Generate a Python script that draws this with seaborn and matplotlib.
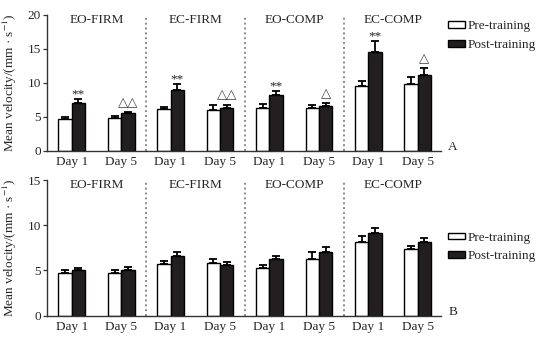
import matplotlib
matplotlib.use("Agg")
import matplotlib.pyplot as plt
from matplotlib.container import BarContainer
import seaborn as sns
import numpy as np
import pandas as pd

# ---------------- data ----------------
groups = ["EO-FIRM", "EC-FIRM", "EO-COMP", "EC-COMP"]
days = ["Day 1", "Day 5"]
phases = ["Pre-training", "Post-training"]

# Panel A
a_pre = [4.6, 4.8, 6.1, 6.0, 6.3, 6.3, 9.6, 9.8]
a_pre_err = [0.4, 0.35, 0.4, 0.7, 0.55, 0.5, 0.6, 1.0]
a_post = [7.1, 5.5, 8.95, 6.35, 8.15, 6.6, 14.5, 11.2]
a_post_err = [0.5, 0.2, 0.85, 0.45, 0.6, 0.4, 1.6, 1.0]
a_marks = ["**", "△△", "**", "△△", "**", "△", "**", "△"]

# Panel B
b_pre = [4.7, 4.75, 5.7, 5.8, 5.3, 6.3, 8.2, 7.35]
b_pre_err = [0.35, 0.35, 0.4, 0.5, 0.3, 0.7, 0.6, 0.35]
b_post = [5.0, 5.0, 6.6, 5.6, 6.25, 7.0, 9.15, 8.2]
b_post_err = [0.25, 0.35, 0.4, 0.35, 0.4, 0.65, 0.6, 0.35]
b_marks = [""] * 8

panels = [
    ("A", a_pre, a_pre_err, a_post, a_post_err, a_marks, 20),
    ("B", b_pre, b_pre_err, b_post, b_post_err, b_marks, 15),
]

# ---------------- style ----------------
sns.set_style("ticks")
plt.rcParams["font.family"] = ["Liberation Serif", "DejaVu Sans"]
plt.rcParams["mathtext.fontset"] = "stix"
FS = 9.5
spine_col = "#333333"

fig = plt.figure(figsize=(5.43, 3.39), dpi=100)
ax_rects = [
    [0.0866, 0.5555, 0.7256, 0.4003],
    [0.0866, 0.0687, 0.7256, 0.4003],
]

cat_keys = [f"{g}|{d}" for g in groups for d in days]

for rect, (tag, pre, pre_err, post, post_err, marks, ymax) in zip(ax_rects, panels):
    ax = fig.add_axes(rect)
    df = pd.DataFrame({
        "cat": cat_keys * 2,
        "phase": [phases[0]] * 8 + [phases[1]] * 8,
        "value": list(pre) + list(post),
    })
    sns.barplot(data=df, x="cat", y="value", hue="phase", order=cat_keys,
                hue_order=phases, palette=["white", "#231f20"],
                edgecolor="black", linewidth=1.0, width=0.54,
                errorbar=None, ax=ax, saturation=1)

    bar_conts = [c for c in ax.containers if isinstance(c, BarContainer)]
    errs = [pre_err, post_err]
    for ci, cont in enumerate(bar_conts):
        xs = [b.get_x() + b.get_width() / 2 for b in cont]
        hs = [b.get_height() for b in cont]
        e = errs[ci]
        ax.errorbar(xs, hs, yerr=[np.zeros(len(e)), e], fmt="none",
                    ecolor="black", elinewidth=1.3, capsize=2.6,
                    capthick=1.3, zorder=3)
        if ci == 1:
            for x, h, er, m in zip(xs, hs, e, marks):
                if not m:
                    continue
                if "*" in m:
                    ax.text(x, h + er + 0.75 * ymax / 20, m, ha="center",
                            va="center", fontsize=FS, color="#222222")
                else:
                    ax.text(x, h + er + 1.4 * ymax / 20, m, ha="center",
                            va="center", fontsize=9.5, color="#444444",
                            family=["DejaVu Sans"])

    # separators
    for sx in [1.5, 3.5, 5.5]:
        ax.axvline(sx, color="#8a8a8a", linestyle=(0, (1.0, 1.5)), lw=1.4,
                   zorder=0)

    # group titles
    for gi, g in enumerate(groups):
        ax.text(2 * gi + 0.5, 0.965, g, transform=ax.get_xaxis_transform(),
                ha="center", va="center", fontsize=FS)

    ax.set_xlim(-0.5, 7.47)
    ax.set_ylim(0, ymax)
    ax.set_yticks(np.arange(0, ymax + 1, 5))
    ax.set_xticks(range(8))
    ax.set_xticklabels([k.split("|")[1] for k in cat_keys])
    ax.tick_params(axis="x", length=0, pad=3.5, labelsize=FS)
    ax.tick_params(axis="y", length=3, width=0.9, pad=1.5, labelsize=FS,
                   color=spine_col, direction="out")
    ax.set_xlabel("")
    ax.set_ylabel("Mean velocity/(mm · s$^{-1}$)", fontsize=FS)
    ax.yaxis.set_label_coords(-0.07, 0.5)
    sns.despine(ax=ax)
    for s in ["left", "bottom"]:
        ax.spines[s].set_color(spine_col)
        ax.spines[s].set_linewidth(1.0)

    handles, labels = ax.get_legend_handles_labels()
    if ax.get_legend() is not None:
        ax.get_legend().remove()
    top = 0.96 if tag == "A" else 0.62
    ax.legend(handles, labels, loc="upper left", bbox_to_anchor=(1.018, top),
              frameon=False, fontsize=FS, handlelength=1.3, handleheight=0.4,
              handletextpad=0.2, labelspacing=0.5, borderpad=0,
              borderaxespad=0)

    ax.text(1.018, 0.03, tag, transform=ax.transAxes, ha="left", va="center",
            fontsize=FS)

fig.savefig("out.png", dpi=100)
